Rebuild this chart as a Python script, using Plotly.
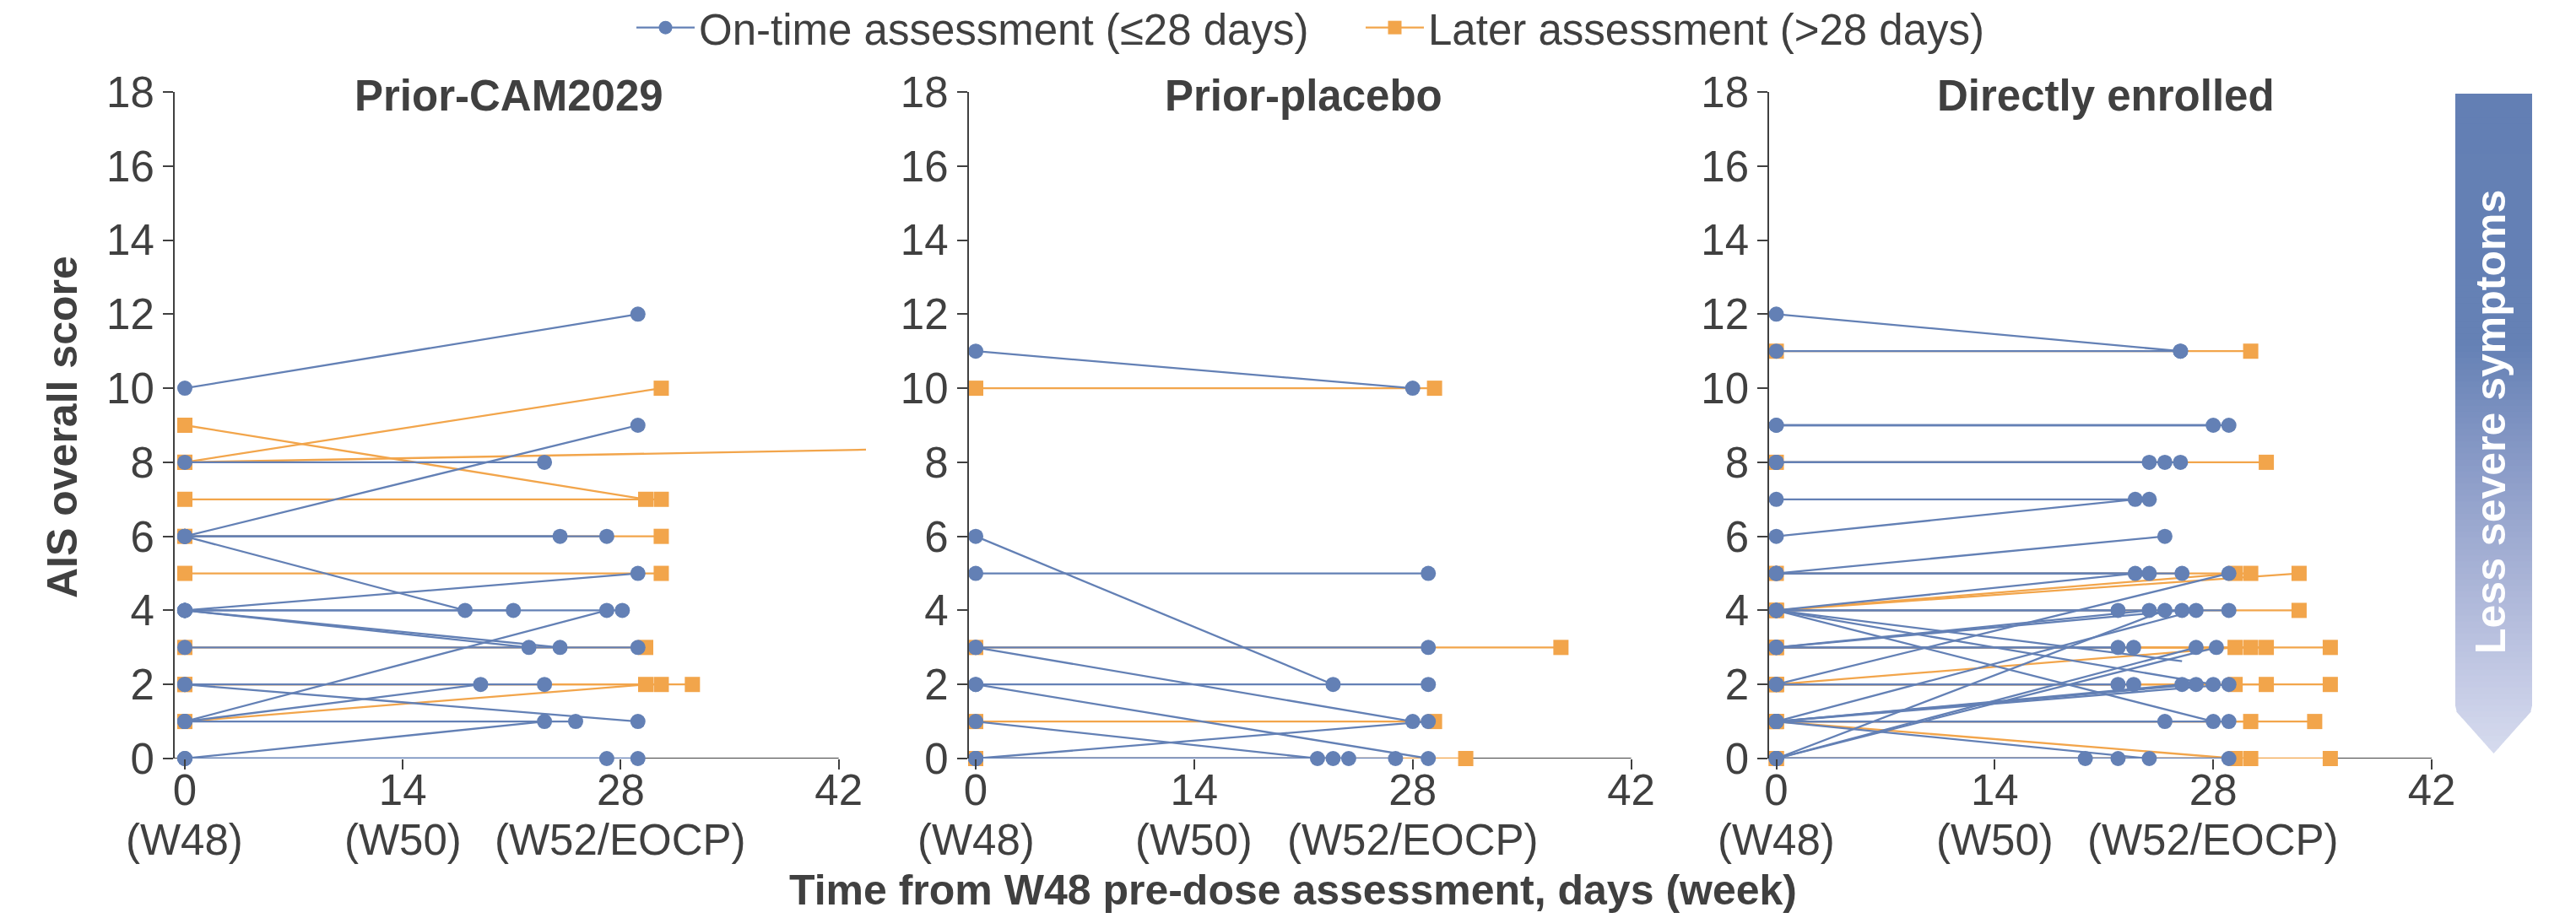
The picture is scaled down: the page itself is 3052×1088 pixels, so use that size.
import plotly.graph_objects as go

W, H = 3052, 1088

# ---------------- data ----------------
# status: 0 = on-time assessment (<=28 days), 1 = later assessment (>28 days), 2 = line without end marker
# Panel 1: Prior-CAM2029
cam_base = [10, 8, 9, 7, 8, 8, 6, 6, 6, 6, 6, 5, 4, 4, 1, 4, 4, 4, 3, 3, 2, 1, 1, 2, 2, 2, 0, 1, 0, 0]
cam_day = [29.1, 30.6, 29.6, 30.6, 128, 23.1, 29.1, 24.1, 27.1, 30.6, 18.0, 30.6, 29.1, 21.1, 27.1,
           28.1, 22.1, 24.1, 29.1, 29.6, 23.1, 19.0, 29.6, 30.6, 32.6, 29.1, 23.1, 25.1, 27.1, 29.1]
cam_follow = [12, 10, 7, 7, 9, 8, 9, 6, 6, 6, 4, 5, 5, 4, 4, 4, 3, 3, 3, 3, 2, 2, 2, 2, 2, 1, 1, 1, 0, 0]
cam_status = [0, 1, 1, 1, 1, 0, 0, 0, 0, 1, 0, 1, 0, 0, 0, 0, 0, 0, 0, 1, 0, 0, 1, 1, 1, 0, 0, 0, 0, 0]

# Panel 2: Prior-placebo
pbo_base = [11, 10, 6, 5, 3, 3, 3, 2, 2, 1, 1, 0, 0, 0, 0, 0]
pbo_day = [28.0, 29.4, 22.9, 29.0, 29.0, 37.5, 28.0, 29.0, 29.0, 29.4, 21.9, 29.0, 22.9, 23.9, 26.9, 31.4]
pbo_follow = [10, 10, 2, 5, 3, 3, 1, 2, 0, 1, 0, 1, 0, 0, 0, 0]
pbo_status = [0, 1, 0, 0, 0, 1, 0, 0, 0, 1, 0, 0, 0, 0, 0, 1]

# Panel 3: Directly enrolled
dir_base = [12, 11, 11, 9, 9, 8, 8, 8, 8, 7, 6, 5, 4, 5, 5, 2, 4, 5, 4, 4,
            3, 0, 3, 1, 4, 4, 4, 3, 3, 0, 0, 2, 3, 3, 3, 2, 2, 1, 1, 4,
            1, 2, 2, 2, 1, 4, 1, 1, 1, 0, 0, 1, 0, 1, 0, 0]
dir_day = [25.9, 25.9, 30.4, 28.0, 29.0, 23.9, 24.9, 25.9, 31.4, 23.9,
           23.0, 24.9, 23.0, 23.9, 26.0, 29.0, 29.4, 30.4, 33.5, 21.9,
           23.9, 24.9, 26.0, 26.9, 29.0, 33.5, 26.0, 21.9, 22.9, 26.9,
           28.2, 29.4, 30.4, 31.4, 35.5, 21.9, 22.9, 26.0, 26.9, 28.0,
           29.0, 29.4, 31.4, 35.5, 24.9, 28.0, 29.0, 30.4, 34.5, 19.8,
           21.9, 23.9, 29.0, 29.4, 30.4, 35.5]
dir_follow = [11, 11, 11, 9, 9, 8, 8, 8, 8, 7, 7, 6, 5, 5, 5, 5, 5, 5, 5, 4,
              4, 4, 4, 4, 4, 4, 2.63, 3, 3, 3, 3, 3, 3, 3, 3, 2, 2, 2, 2, 2,
              2, 2, 2, 2, 1, 1, 1, 1, 1, 0, 0, 0, 0, 0, 0, 0]
dir_status = [0, 0, 1, 0, 0, 0, 0, 0, 1, 0, 0, 0, 0, 0, 0, 0, 1, 1, 1, 0,
              0, 0, 0, 0, 0, 1, 2, 0, 0, 0, 0, 1, 1, 1, 1, 0, 0, 0, 0, 0,
              0, 1, 1, 1, 0, 0, 0, 1, 1, 0, 0, 0, 0, 1, 1, 1]

panel_titles = ["Prior-CAM2029", "Prior-placebo", "Directly enrolled"]
x_tickvals = [0, 14, 28, 42]
week_labels = ["(W48)", "(W50)", "(W52/EOCP)"]
week_days = [0, 14, 28]
y_tickvals = [0, 2, 4, 6, 8, 10, 12, 14, 16, 18]
legend_names = ["On-time assessment (≤28 days)", "Later assessment (>28 days)"]

# ---------------- style ----------------
BLUE = "#6380B5"
ORANGE = "#F2A54B"
TXT = "#404040"
FONT = "Liberation Sans, Arial, Helvetica, sans-serif"
# per panel: x range and pixel domain
XRANGES = [(-0.65, 43.75), (-0.45, 43.9), (-0.45, 43.9)]
DOMS_PX = [(207.0, 1026.0), (1147.7, 1967.7), (2096.2, 2916.2)]
YDOM = [(H - 899) / H, (H - 109) / H]
TITLE_X_PX = [603, 1544, 2495]
LW = 2.3
MS = 18
FS = 51


def px(x):
    return x / W


def py(y):
    return 1 - y / H


panels = [
    (cam_base, cam_day, cam_follow, cam_status),
    (pbo_base, pbo_day, pbo_follow, pbo_status),
    (dir_base, dir_day, dir_follow, dir_status),
]

fig = go.Figure()

# legend entries
fig.add_trace(go.Scatter(x=[None], y=[None], mode="lines+markers", name=legend_names[0],
                         line=dict(color=BLUE, width=LW),
                         marker=dict(color=BLUE, symbol="circle", size=MS)))
fig.add_trace(go.Scatter(x=[None], y=[None], mode="lines+markers", name=legend_names[1],
                         line=dict(color=ORANGE, width=LW),
                         marker=dict(color=ORANGE, symbol="square", size=MS)))

for k, (base, day, follow, status) in enumerate(panels):
    suf = "" if k == 0 else str(k + 1)
    xmax = XRANGES[k][1]
    for group, color, symbol in [((1,), ORANGE, "square"), ((0, 2), BLUE, "circle")]:
        lx, ly, mx, my = [], [], [], []
        for b, d, f, s in zip(base, day, follow, status):
            if s not in group:
                continue
            lx += [0, d, None]
            ly += [b, f, None]
            mx.append(0)
            my.append(b)
            if s != 2 and d <= xmax:
                mx.append(d)
                my.append(f)
        fig.add_trace(go.Scatter(x=lx, y=ly, mode="lines", line=dict(color=color, width=LW),
                                 showlegend=False, hoverinfo="skip",
                                 xaxis="x" + suf, yaxis="y" + suf))
        fig.add_trace(go.Scatter(x=mx, y=my, mode="markers",
                                 marker=dict(color=color, symbol=symbol, size=MS, line=dict(width=0)),
                                 cliponaxis=False, showlegend=False, hoverinfo="skip",
                                 xaxis="x" + suf, yaxis="y" + suf))

layout = dict(
    width=W, height=H,
    margin=dict(l=0, r=0, t=0, b=0, autoexpand=False),
    paper_bgcolor="white", plot_bgcolor="white",
    font=dict(family=FONT, color=TXT, size=FS),
    showlegend=True,
    legend=dict(orientation="h", x=px(749), xanchor="left", y=py(33), yanchor="middle",
                itemwidth=69, entrywidth=780, entrywidthmode="pixels",
                font=dict(size=FS, color=TXT), bgcolor="rgba(0,0,0,0)"),
)

shapes = []
annotations = []
for k in range(3):
    suf = "" if k == 0 else str(k + 1)
    d0, d1 = DOMS_PX[k]
    xr = list(XRANGES[k])
    layout["xaxis" + suf] = dict(domain=[px(d0), px(d1)], range=xr, tickvals=x_tickvals,
                                 ticks="outside", ticklen=12, tickwidth=2, tickcolor=TXT,
                                 ticklabelstandoff=-19,
                                 showline=False, showgrid=False, zeroline=False,
                                 tickfont=dict(size=FS, color=TXT), anchor="y" + suf)
    layout["yaxis" + suf] = dict(domain=YDOM, range=[0, 18], tickvals=y_tickvals,
                                 ticks="outside", ticklen=12, tickwidth=2, tickcolor=TXT,
                                 showline=True, linecolor=TXT, linewidth=2,
                                 showgrid=False, zeroline=False,
                                 tickfont=dict(size=FS, color=TXT), anchor="x" + suf)
    shapes.append(dict(type="line", xref="x" + suf, yref="y" + suf, x0=xr[0], x1=42, y0=0, y1=0,
                       line=dict(color=TXT, width=2), layer="below"))
    annotations.append(dict(text="<b>%s</b>" % panel_titles[k], x=px(TITLE_X_PX[k]), y=py(113),
                            xref="paper", yref="paper", showarrow=False,
                            xanchor="center", yanchor="middle",
                            font=dict(size=FS, color=TXT)))
    for lab, dd in zip(week_labels, week_days):
        annotations.append(dict(text=lab, x=dd, y=py(995), xref="x" + suf, yref="paper",
                                showarrow=False, xanchor="center", yanchor="middle",
                                font=dict(size=FS, color=TXT)))

annotations.append(dict(text="<b>AIS overall score</b>", x=px(74), y=py(506), xref="paper", yref="paper",
                        textangle=-90, showarrow=False, xanchor="center", yanchor="middle",
                        font=dict(size=50, color=TXT)))
annotations.append(dict(text="<b>Time from W48 pre-dose assessment, days (week)</b>", x=px(1532), y=py(1055),
                        xref="paper", yref="paper", showarrow=False, xanchor="center", yanchor="middle",
                        font=dict(size=50, color=TXT)))

# gradient arrow "Less severe symptoms"
AX0, AX1 = 2909, 3000
ATOP, ABOT, ATIP = 111, 842, 893
stops = [(0.0, (99, 127, 180)), (0.38, (101, 129, 181)), (0.55, (135, 153, 198)),
         (0.75, (172, 182, 216)), (0.9, (198, 204, 230)), (1.0, (214, 219, 238))]


def grad(t):
    for (t0, c0), (t1, c1) in zip(stops[:-1], stops[1:]):
        if t <= t1:
            u = (t - t0) / (t1 - t0) if t1 > t0 else 0
            return "rgb(%d,%d,%d)" % tuple(round(a + (b - a) * u) for a, b in zip(c0, c1))
    return "rgb(%d,%d,%d)" % stops[-1][1]


def half_w(y):
    hw = (AX1 - AX0) / 2
    if y <= ABOT:
        return hw
    return max(0.0, hw * (ATIP - y) / (ATIP - ABOT))


cx = (AX0 + AX1) / 2
N = 110
for i in range(N):
    ya = ATOP + (ATIP - ATOP) * i / N
    yb = min(ATIP, ATOP + (ATIP - ATOP) * (i + 1) / N + 0.8)
    t = ((ya + yb) / 2 - ATOP) / (ATIP - ATOP)
    wa, wb = half_w(ya), half_w(yb)
    path = "M %f,%f L %f,%f L %f,%f L %f,%f Z" % (
        px(cx - wa), py(ya), px(cx + wa), py(ya), px(cx + wb), py(yb), px(cx - wb), py(yb))
    shapes.append(dict(type="path", path=path, xref="paper", yref="paper",
                       fillcolor=grad(t), line=dict(width=0), layer="below"))

annotations.append(dict(text="<b>Less severe symptoms</b>", x=px(2951), y=py(500), xref="paper", yref="paper",
                        textangle=-90, showarrow=False, xanchor="center", yanchor="middle",
                        font=dict(size=50, color="white")))

layout["shapes"] = shapes
layout["annotations"] = annotations
fig.update_layout(**layout)

fig.write_html("out.html", config={"displayModeBar": False},
               post_script="document.body.style.margin='0';document.body.style.overflow='hidden';")
